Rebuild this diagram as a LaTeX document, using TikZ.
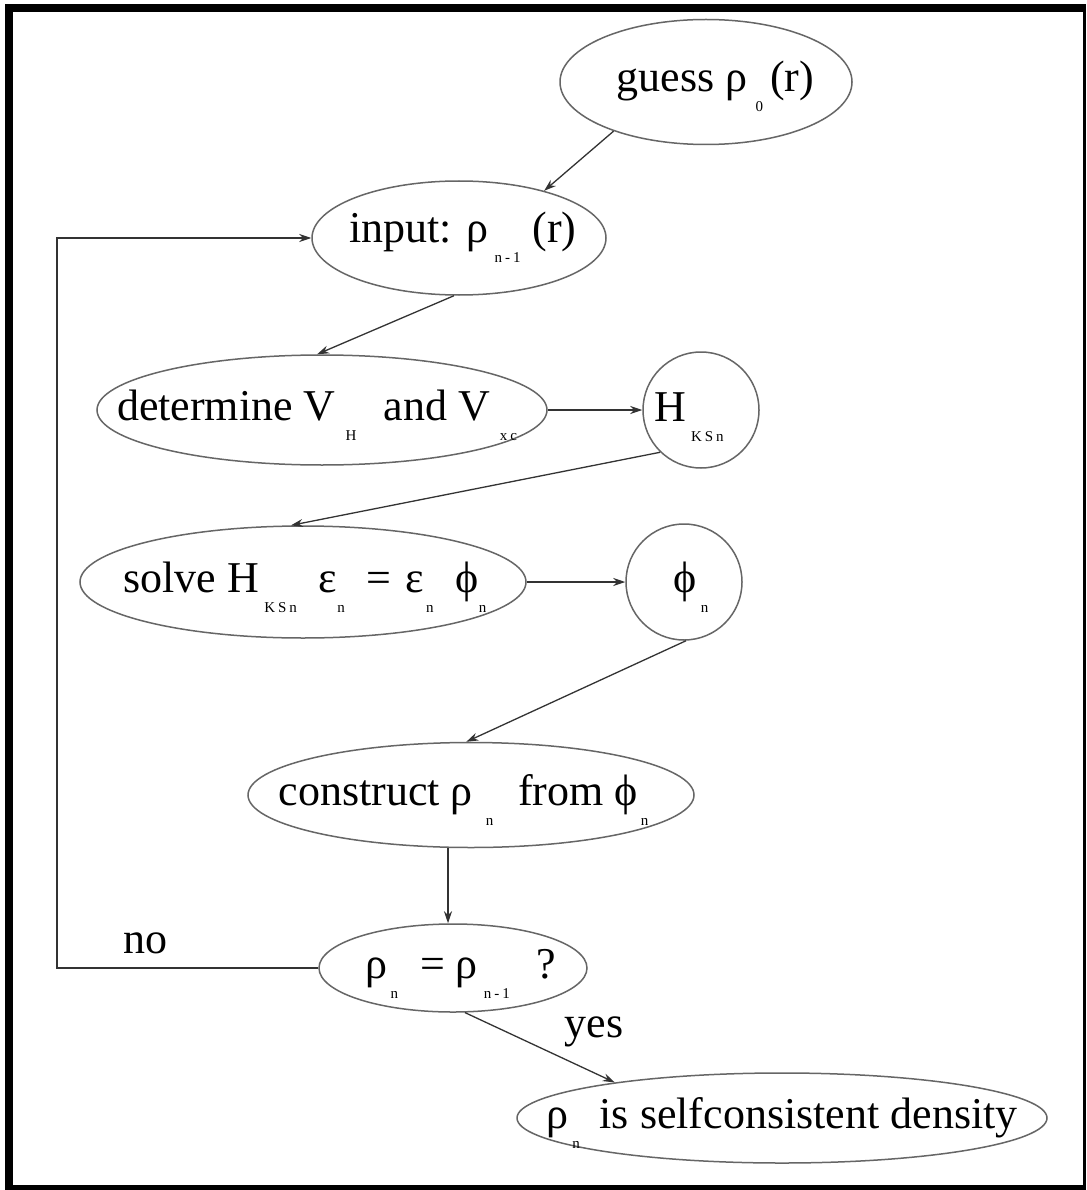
\documentclass[tikz,border=0pt]{standalone}
\usepackage{fontspec}
\setmainfont{Liberation Serif}
\usetikzlibrary{shapes.geometric,arrows.meta}
\newcommand\sbs[3]{\hspace{#1}\raisebox{-20pt}{\fontsize{15}{15}\selectfont #2}\hspace{#3}}
\begin{document}
\begin{tikzpicture}[x=1pt,y=-1pt,
  ell/.style={ellipse,draw=black!60,line width=1.5pt,inner sep=0pt,text depth=0pt,font=\fontsize{44}{50}\selectfont},
  circ/.style={circle,draw=black!60,line width=1.5pt,inner sep=0pt,text depth=0pt,font=\fontsize{44}{50}\selectfont},
  conn/.style={draw=black!80,line width=1.3pt,-{Stealth[length=12pt,width=8pt]}},
  lbl/.style={font=\fontsize{44}{50}\selectfont,inner sep=0pt}]
\useasboundingbox (0,0) rectangle (1086,1190);
\fill[black] (5,4) rectangle (1086,1190);
\fill[white] (13,12) rectangle (1083,1185);
\node[ell,minimum width=292pt,minimum height=125pt,text height=20pt] (guess) at (706,82)
  {\makebox[0pt]{\hspace{19pt}guess ρ\sbs{8pt}{0}{7pt}(r)}};
\node[ell,minimum width=294pt,minimum height=114pt,text height=10pt] (input) at (459,238)
  {\makebox[0pt]{\hspace{8pt}input: ρ\sbs{6pt}{n\hspace{3pt}-\hspace{3pt}1}{12pt}(r)}};
\node[ell,minimum width=450pt,minimum height=110pt,text height=20pt] (det) at (322,410)
  {\makebox[0pt]{\hspace{-10pt}determine V\sbs{10pt}{H}{27pt}and V\sbs{10pt}{x\hspace{3pt}c}{0pt}}};
\node[circ,minimum size=116pt,text height=22pt] (H) at (701,410)
  {\makebox[0pt]{\hspace{-24pt}H\sbs{5pt}{K\hspace{3pt}S\hspace{3pt}n}{0pt}}};
\node[ell,minimum width=446pt,minimum height=112pt,text height=20pt] (solve) at (303,582)
  {\makebox[0pt]{\hspace{4pt}solve H\sbs{5pt}{K\hspace{3pt}S\hspace{3pt}n}{22pt}ε\sbs{0pt}{n}{22pt}=\hspace{14pt}ε\sbs{2pt}{n}{22pt}ϕ\sbs{0pt}{n}{0pt}}};
\node[circ,minimum size=116pt,text height=20pt] (phi) at (684,582)
  {\makebox[0pt]{\hspace{14pt}ϕ\sbs{4pt}{n}{0pt}}};
\node[ell,minimum width=446pt,minimum height=105pt,text height=20pt] (cons) at (471,795)
  {\makebox[0pt]{\hspace{-15pt}construct ρ\sbs{13pt}{n}{25pt}from ϕ\sbs{3pt}{n}{0pt}}};
\node[ell,minimum width=268pt,minimum height=88pt,text height=20pt] (check) at (453,968)
  {\makebox[0pt]{\hspace{16pt}ρ\sbs{3pt}{n}{22pt}=\hspace{11pt}ρ\sbs{6pt}{n\hspace{3pt}-\hspace{3pt}1}{27pt}?}};
\node[ell,minimum width=530pt,minimum height=90pt,text height=20pt] (final) at (782,1118)
  {\makebox[0pt]{ρ\sbs{4pt}{n}{20pt}is selfconsistent density}};
\node[lbl] (no) at (145,943) {no};
\node[lbl] (yes) at (594,1032) {yes};
\coordinate (lp) at (57,968);
\draw[conn] (guess.208) -- (input.29);
\draw[conn] (input.265) -- (det.95);
\draw[conn] (det.east) -- (H.west);
\draw[conn] (H.226) -- (solve.102);
\draw[conn] (solve.east) -- (phi.west);
\draw[conn] (phi.272) -- (cons.95);
\draw[conn] ([xshift=-23pt]cons.south) -- ([xshift=-5pt]check.north);
\draw[conn] (check.285) -- (final.168);
\draw[conn] (check.west) -- (lp) |- (input.west);
\end{tikzpicture}
\end{document}
